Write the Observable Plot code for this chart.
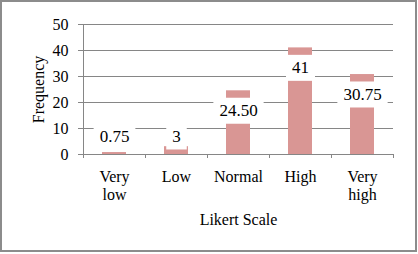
<!DOCTYPE html>
<html><head><meta charset="utf-8">
<script src="https://cdn.jsdelivr.net/npm/d3@7"></script>
<script src="https://cdn.jsdelivr.net/npm/@observablehq/plot@0.6"></script>
<style>
html,body{margin:0;padding:0;background:#fff;}
#wrap{position:relative;width:418px;height:254px;overflow:hidden;}
#chart{position:absolute;left:0;top:0;}
#frame{position:absolute;left:0;top:0;width:413px;height:248px;border:2px solid #8c8c8c;pointer-events:none;}
</style></head><body>
<div id="wrap"><div id="chart"></div><div id="frame"></div></div>
<script>
const categories = ["Very\nlow", "Low", "Normal", "High", "Very\nhigh"];
const frequency = [0.75, 3, 24.5, 41, 30.75];
const valueLabels = ["0.75", "3", "24.50", "41", "30.75"];
const yTicks = [0, 10, 20, 30, 40, 50];
const xTitle = "Likert Scale";
const yTitle = "Frequency";

const data = categories.map((c, i) => ({category: c, value: frequency[i], label: valueLabels[i]}));

const W = 418, H = 254, mL = 83, mR = 25, mT = 24, mB = 100;
const half = (W - mL - mR) / (2 * categories.length);
const grid = "#868686", barColor = "#D99694";
const font = "'Liberation Serif','Times New Roman',serif";
const labelFloor = 14.6;

const chart = Plot.plot({
  width: W, height: H,
  marginLeft: mL, marginRight: mR, marginTop: mT, marginBottom: mB,
  style: {fontFamily: font, fontSize: "16px", color: "#000", background: "transparent", overflow: "visible"},
  x: {type: "band", domain: categories, padding: 0, axis: null},
  y: {domain: [0, 50]},
  marks: [
    Plot.ruleY(yTicks, {stroke: grid, strokeWidth: 1}),
    Plot.ruleX([categories[0]], {dx: -half, stroke: grid}),
    Plot.axisY({ticks: yTicks, tickSize: 5, tickPadding: 10, stroke: grid, fill: "#000", fontSize: 16, label: null}),
    Plot.barY(data, {x: "category", y: "value", fill: barColor, insetLeft: 19, insetRight: 19}),
    Plot.ruleX(categories, {dx: -half, y1: 0, y2: 0, insetBottom: -4, stroke: grid}),
    Plot.ruleX([categories[categories.length - 1]], {dx: half, y1: 0, y2: 0, insetBottom: -4, stroke: grid}),
    Plot.text(categories, {x: d => d, text: d => d, frameAnchor: "bottom", textAnchor: "middle", lineAnchor: "top", dy: 14, lineHeight: 1.15, fontSize: 16, fill: "#000"}),
    Plot.text([xTitle], {text: d => d, frameAnchor: "bottom", textAnchor: "middle", lineAnchor: "middle", dy: 65, fontSize: 16, fill: "#000"}),
    Plot.text([yTitle], {text: d => d, frameAnchor: "left", textAnchor: "middle", lineAnchor: "middle", rotate: -90, dx: -45, fontSize: 16, fill: "#000"}),
    Plot.text(data, {x: "category", y: d => Math.max(d.value, labelFloor), dy: 20, text: "label", fontSize: 17, fill: "#000"})
  ]
});

document.getElementById("chart").appendChild(chart);

const labelSet = new Set(valueLabels);
chart.querySelectorAll("text").forEach(t => {
  if (!labelSet.has(t.textContent)) return;
  const b = t.getBBox();
  const r = document.createElementNS("http://www.w3.org/2000/svg", "rect");
  r.setAttribute("x", b.x - 6);
  r.setAttribute("y", b.y + b.height / 2 - 13);
  r.setAttribute("width", b.width + 12);
  r.setAttribute("height", 26);
  r.setAttribute("fill", "#fff");
  r.setAttribute("stroke", "none");
  const tr = t.getAttribute("transform");
  if (tr) r.setAttribute("transform", tr);
  t.parentNode.insertBefore(r, t);
});
</script>
</body></html>
